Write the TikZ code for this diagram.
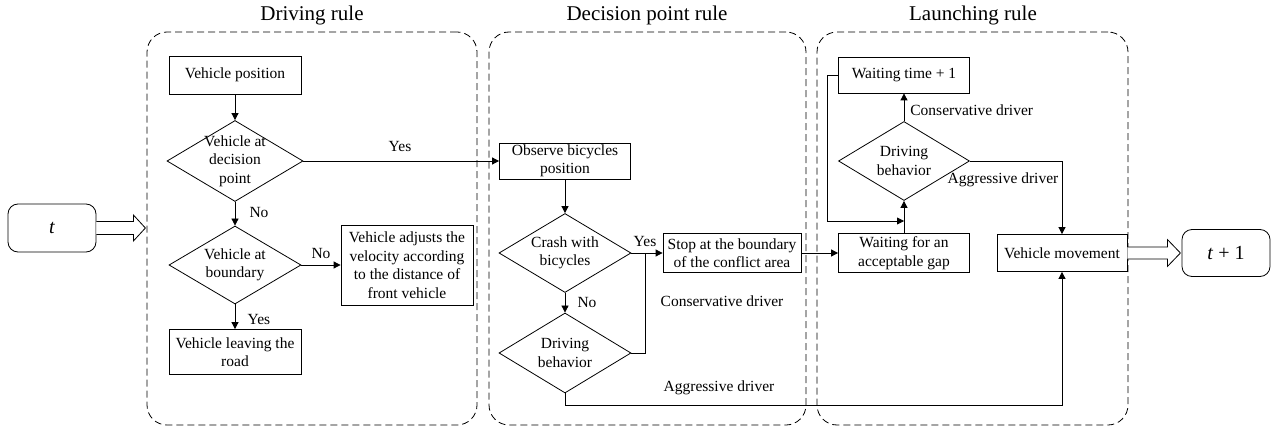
\documentclass[tikz,border=0pt]{standalone}
\usepackage{fontspec}
\setmainfont{Liberation Serif}
\usetikzlibrary{shapes.geometric,arrows.meta,calc}
\newcommand\bodyfont{\fontsize{15.5}{18.5}\selectfont}
\newcommand\titlefont{\fontsize{21}{25}\selectfont}
\newcommand\timefont{\fontsize{20}{24}\selectfont}

\tikzset{
  box/.style={draw, rectangle, align=center, inner sep=1pt, minimum width=132pt, minimum height=38pt, font=\bodyfont},
  dec/.style={draw, diamond, inner sep=0pt, minimum width=132pt, minimum height=80pt, label={[align=center, font=\bodyfont]center:#1}},
  term/.style={draw, rectangle, rounded corners=10pt, minimum width=88pt, minimum height=48pt, font=\timefont},
  rulebox/.style={draw, dash pattern=on 7pt off 4pt, rounded corners=20pt, minimum height=393pt},
  title/.style={font=\titlefont},
  lbl/.style={font=\bodyfont, inner sep=1pt},
  flow/.style={-{Triangle[length=7pt,width=7pt]}},
}

\begin{document}
\begin{tikzpicture}[x=1pt, y=1pt, line width=0.8pt]
    \useasboundingbox (0,0) rectangle (1277,429);

    % the three rule frames
    \node[rulebox, minimum width=330pt] (drive) at (312,200.5) {};
    \node[rulebox, minimum width=317pt] (decide) at (647.5,200.5) {};
    \node[rulebox, minimum width=311pt] (launch) at (972.5,200.5) {};
    \node[title] (drivetitle) at (312,414) {Driving rule};
    \node[title] (decidetitle) at (647,414) {Decision point rule};
    \node[title] (launchtitle) at (973,414) {Launching rule};

    % time steps
    \node[term] (t0) at (52,201) {\textit{t}};
    \node[term, minimum height=47pt] (t1) at (1226,176) {\textit{t} + 1};

    % driving rule
    \node[box] (vp) at (235,354) {Vehicle position};
    \node[dec={Vehicle at\\decision\\point}, minimum width=136pt, minimum height=81pt] (atdp) at (235,268) {};
    \node[dec={Vehicle at\\boundary}, minimum height=78pt] (atbd) at (235,164) {};
    \node[box, minimum height=45pt] (leave) at (235,77) {Vehicle leaving the\\road};
    \node[box, minimum height=80pt] (adjust) at (407,164) {Vehicle adjusts the\\velocity according\\to the distance of\\front vehicle};

    % decision point rule
    \node[box, minimum width=131pt, minimum height=36pt] (observe) at (565,268) {Observe bicycles\\position};
    \node[dec={Crash with\\bicycles}, minimum height=79pt] (crash) at (565,176) {};
    \node[dec={Driving\\behavior}] (behave1) at (565,76) {};
    \node[box, minimum width=138pt, minimum height=39pt] (stop) at (732,176) {Stop at the boundary\\of the conflict area};

    % launching rule
    \node[box, minimum width=131pt, minimum height=36pt] (waittime) at (904,354) {Waiting time + 1};
    \node[dec={Driving\\behavior}, minimum width=131pt, minimum height=79pt] (behave2) at (904,268) {};
    \node[box, minimum width=131pt, minimum height=39pt] (gap) at (904,176) {Waiting for an\\acceptable gap};
    \node[box, minimum width=130pt, minimum height=37pt] (move) at (1062,176) {Vehicle movement};
    \coordinate (merge) at (904,208);

    % connectors
    \draw[flow] (vp) -- (atdp);
    \draw[flow] (atdp) -- (atbd);
    \draw[flow] (atbd) -- (leave);
    \draw[flow] (atbd) -- (adjust);
    \draw[flow] (atdp) -- (observe);
    \draw[flow] (observe) -- (crash);
    \draw[flow] (crash) -- (stop);
    \draw[flow] (crash) -- (behave1);
    \draw (behave1.east) -| ([xshift=14pt]crash.east);
    \draw[flow] (behave1.south) -- ++(0,-12) -| (move.south);
    \draw[flow] (stop) -- (gap);
    \draw[flow] (gap) -- (behave2);
    \draw[flow] (behave2) -- (waittime);
    \draw[flow] (behave2.east) -| (move.north);
    \draw[flow] (waittime.west) -- ++(-11,0) |- (merge);

    % hollow arrows
    \draw[fill=white] ([yshift=6.5pt]t0.east) -- ++(37,0) -- ++(0,6.5) -- ++(12,-13)
        -- ++(-12,-13) -- ++(0,6.5) -- ++(-37,0);
    \draw[fill=white] ([yshift=6pt]move.east) -- ++(40,0) -- ++(0,7.5) -- ++(13,-13.5)
        -- ++(-13,-13.5) -- ++(0,7.5) -- ++(-40,0);

    % connector labels
    \node[lbl] (yes1) at (400,282) {Yes};
    \node[lbl] (no1) at (259,216) {No};
    \node[lbl] (no2) at (321,175) {No};
    \node[lbl] (yes2) at (259,110) {Yes};
    \node[lbl] (yes3) at (645,187) {Yes};
    \node[lbl] (no3) at (587,126) {No};
    \node[lbl] (cons1) at (722,128) {Conservative driver};
    \node[lbl] (aggr1) at (719,41) {Aggressive driver};
    \node[lbl, anchor=west] (cons2) at (909,319) {Conservative driver};
    \node[lbl] (aggr2) at (1003,249) {Aggressive driver};
\end{tikzpicture}
\end{document}
